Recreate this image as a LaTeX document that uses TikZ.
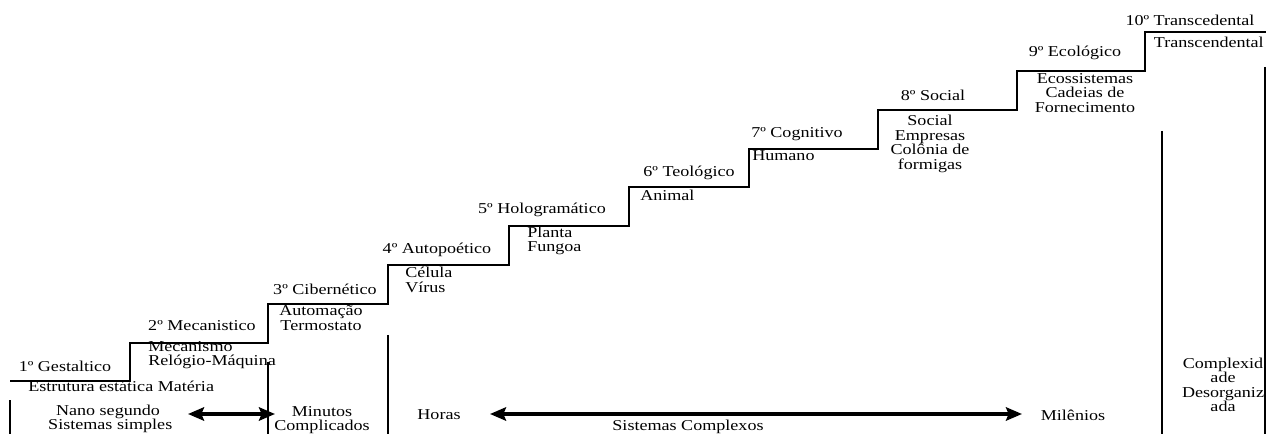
\documentclass[tikz,border=0pt]{standalone}
\usepackage{fontspec}
\setmainfont{Liberation Serif}[FakeStretch=1.2]
\usepackage{tikz}
\usepackage{xcolor}
\usetikzlibrary{arrows.meta, positioning}
\definecolor{ink}{HTML}{000000}

\begin{document}
\begin{tikzpicture}[x=0.75pt, y=-0.75pt,
            lbl/.style={font=\fontsize{11.3}{10.8}\selectfont, inner sep=0pt, align=center, text=ink},
            lbll/.style={lbl, anchor=west, align=left},
            stair/.style={draw=ink, line width=1.5pt},
            sep/.style={draw=ink, line width=1pt},
            span/.style={draw=ink, line width=2.8pt, {Stealth[length=12pt, width=10pt, inset=2pt]}-{Stealth[length=12pt, width=10pt, inset=2pt]}}]
            \clip (0,0) rectangle (1266,434);
            % Stairs
            \draw[stair] (10,381) -- (130,381) -- (130,343) -- (268,343) -- (268,304)
                -- (388,304) -- (388,265) -- (509,265) -- (509,226) -- (629,226)
                -- (629,187) -- (749,187) -- (749,149) -- (878,149) -- (878,110)
                -- (1017,110) -- (1017,71) -- (1145,71) -- (1145,32) -- (1268,32);
            % Separators
            \draw[sep] (10,400) -- (10,436);
            \draw[sep] (268,362) -- (268,436);
            \draw[sep] (388,335) -- (388,436);
            \draw[sep] (1162,131) -- (1162,436);
            \draw[sep] (1265,67) -- (1265,436);
            % Levels
            \node[lbl] (n1) at (65,366) {1º Gestaltico};
            \node[lbll] (d1) at (28,386) {Estrutura estática Matéria};
            \node[lbl] (n2) at (202,326) {2º Mecanistico};
            \node[lbll] (d2) at (148,355) {Mecanismo\\Relógio-Máquina};
            \node[lbl] (n3) at (325,289) {3º Cibernético};
            \node[lbl] (d3) at (321,318) {Automação\\Termostato};
            \node[lbl] (n4) at (437,250) {4º Autopoético};
            \node[lbll] (d4) at (405,280) {Célula\\Vírus};
            \node[lbl] (n5) at (542,210) {5º Hologramático};
            \node[lbll] (d5) at (527,241) {Planta\\Fungoa};
            \node[lbl] (n6) at (689,173) {6º Teológico};
            \node[lbll] (d6) at (640,195) {Animal};
            \node[lbl] (n7) at (797,134) {7º Cognitivo};
            \node[lbll] (d7) at (752,156) {Humano};
            \node[lbl] (n8) at (933,95) {8º Social};
            \node[lbl] (d8) at (930,144) {Social\\Empresas\\Colônia de\\formigas};
            \node[lbl] (n9) at (1075,53) {9º Ecológico};
            \node[lbl] (d9) at (1085,93) {Ecossistemas\\Cadeias de\\Fornecimento};
            \node[lbl] (n10) at (1190,20) {10º Transcedental};
            \node[lbl, anchor=east] (d10) at (1264,42) {Transcendental};
            % Time scale
            \node[lbl] (nano) at (108,419) {Nano segundo\\\ Sistemas simples};
            \node[lbl] (min) at (322,420) {Minutos\\Complicados};
            \node[lbl] (hor) at (439,415) {Horas};
            \node[lbl] (mil) at (1073,415) {Milênios};
            \node[lbl] (cplx) at (688,427) {Sistemas Complexos};
            \node[lbl] (des) at (1223,385) {Complexid\\ade\\Desorganiz\\ada};
            \coordinate (a1) at (188,414);
            \coordinate (a2) at (275,414);
            \coordinate (b1) at (490,414);
            \coordinate (b2) at (1022,414);
            \draw[span] (a1) -- (a2);
            \draw[span] (b1) -- (b2);
        \end{tikzpicture}
\end{document}
